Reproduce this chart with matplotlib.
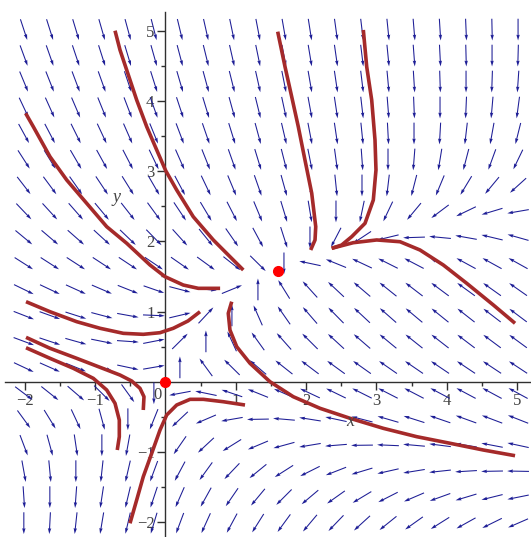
import numpy as np
import matplotlib
matplotlib.use("Agg")
import matplotlib.pyplot as plt

# system: x' = y - x,  y' = k*x + y - y^2   (direction field only)
k_coef = 0.6
x_range = (-2.2, 5.2)
y_range = (-2.2, 5.2)
n_grid = 20

# equilibrium points marked in red
eq_x = [0.0, 1.6]
eq_y = [0.0, 1.57]

# solution curves
curves = [
    ([-1.989, -1.880, -1.643, -1.405, -1.121, -0.836, -0.552, -0.220, -0.007, 0.253, 0.467, 0.777],
     [3.823, 3.632, 3.205, 2.873, 2.541, 2.208, 1.972, 1.662, 1.496, 1.377, 1.330, 1.330]),
    ([-0.718, -0.647, -0.552, -0.410, -0.267, -0.125, 0.003, 0.159, 0.395, 0.680, 0.917, 1.107],
     [5.000, 4.725, 4.440, 4.013, 3.632, 3.301, 3.006, 2.731, 2.350, 2.019, 1.781, 1.591]),
    ([1.596, 1.700, 1.795, 1.889, 1.984, 2.080, 2.137, 2.127, 2.065],
     [4.986, 4.487, 4.060, 3.632, 3.157, 2.684, 2.208, 2.019, 1.876]),
    ([2.814, 2.862, 2.933, 2.980, 2.994, 2.956, 2.838, 2.649, 2.506, 2.364],
     [5.010, 4.487, 4.013, 3.443, 3.016, 2.588, 2.256, 2.066, 1.947, 1.900]),
    ([2.364, 2.671, 3.004, 3.336, 3.620, 3.952, 4.284, 4.663, 4.972],
     [1.900, 1.980, 2.019, 1.994, 1.876, 1.662, 1.402, 1.093, 0.832]),
    ([-1.984, -1.643, -1.263, -0.932, -0.600, -0.316, -0.078, 0.111, 0.320, 0.491],
     [1.140, 0.997, 0.855, 0.761, 0.689, 0.675, 0.698, 0.761, 0.865, 0.997]),
    ([-1.984, -1.643, -1.263, -0.932, -0.647, -0.481, -0.363, -0.306, -0.316],
     [0.632, 0.476, 0.333, 0.205, 0.095, 0.010, -0.094, -0.214, -0.403]),
    ([-1.984, -1.643, -1.312, -1.027, -0.836, -0.718, -0.657, -0.657, -0.686],
     [0.484, 0.333, 0.191, 0.048, -0.118, -0.308, -0.546, -0.783, -0.973]),
    ([-0.505, -0.410, -0.316, -0.196, -0.078, 0.017, 0.159, 0.349, 0.538, 0.822, 1.131],
     [-2.017, -1.685, -1.353, -1.020, -0.688, -0.474, -0.332, -0.251, -0.251, -0.285, -0.332]),
    ([0.942, 0.893, 0.917, 1.013, 1.202, 1.486, 1.818, 2.198, 2.624, 3.098, 3.573, 4.047, 4.521, 4.972],
     [1.140, 0.974, 0.736, 0.499, 0.262, 0.000, -0.214, -0.379, -0.521, -0.664, -0.783, -0.877, -0.973, -1.054]),
]

x_ticks = [-2, -1, 1, 2, 3, 4, 5]
y_ticks = [-2, -1, 1, 2, 3, 4, 5]

arrow_col = "#1e1e96"
curve_col = "#a52a2a"
text_col = "#444444"

fig = plt.figure(figsize=(5.31, 5.37), dpi=100)
ax = fig.add_axes([0, 0, 1, 1])

# direction field, arrows all the same length
dx = (x_range[1] - x_range[0]) / n_grid
dy = (y_range[1] - y_range[0]) / n_grid
gx = x_range[0] + dx * (np.arange(n_grid) + 0.5)
gy = y_range[0] + dy * (np.arange(n_grid) + 0.5)
X, Y = np.meshgrid(gx, gy)
U = Y - X
V = k_coef * X + Y - Y ** 2
mag = np.hypot(U, V)
mag[mag == 0] = 1
L = 0.31
ax.quiver(X, Y, U / mag * L, V / mag * L, angles="xy", scale_units="xy", scale=1,
          pivot="middle", color=arrow_col, width=0.002, headwidth=3.2,
          headlength=5.5, headaxislength=5, zorder=2)

for cx, cy in curves:
    ax.plot(cx, cy, color=curve_col, lw=2.6, solid_capstyle="butt",
            solid_joinstyle="round", zorder=3)

ax.plot(eq_x, eq_y, "o", color="red", ms=7, zorder=4, clip_on=False)

ax.set_xlim(-2.354, 5.199)
ax.set_ylim(-2.212, 5.437)

# axes through the origin
for s in ["top", "right"]:
    ax.spines[s].set_visible(False)
ax.spines["left"].set_position(("data", 0))
ax.spines["bottom"].set_position(("data", 0))
ax.spines["left"].set_bounds(-2.212, 5.27)
ax.spines["bottom"].set_bounds(-2.28, 5.199)
for s in ["left", "bottom"]:
    ax.spines[s].set_color("#303030")
    ax.spines[s].set_linewidth(1.0)
    ax.spines[s].set_zorder(1)

ax.set_xticks(x_ticks)
ax.set_yticks(y_ticks)
ax.set_xticks(np.arange(-2, 5.01, 0.5), minor=True)
ax.set_yticks(np.arange(-2, 5.01, 0.5), minor=True)
ax.tick_params(which="major", length=6, width=1, color="#303030", labelsize=12,
               labelcolor=text_col, pad=2)
ax.tick_params(which="minor", length=3, width=1, color="#303030")
for lab in ax.get_xticklabels() + ax.get_yticklabels():
    lab.set_fontfamily("Liberation Serif")

ax.text(-0.12, -0.19, "0", fontsize=12, color=text_col, family="Liberation Serif",
        ha="center", va="center")
ax.text(2.63, -0.57, "x", fontsize=13, color=text_col, family="Liberation Serif",
        style="italic", ha="center", va="center")
ax.text(-0.69, 2.62, "y", fontsize=13, color=text_col, family="Liberation Serif",
        style="italic", ha="center", va="center")

fig.savefig("out.png", dpi=100)
